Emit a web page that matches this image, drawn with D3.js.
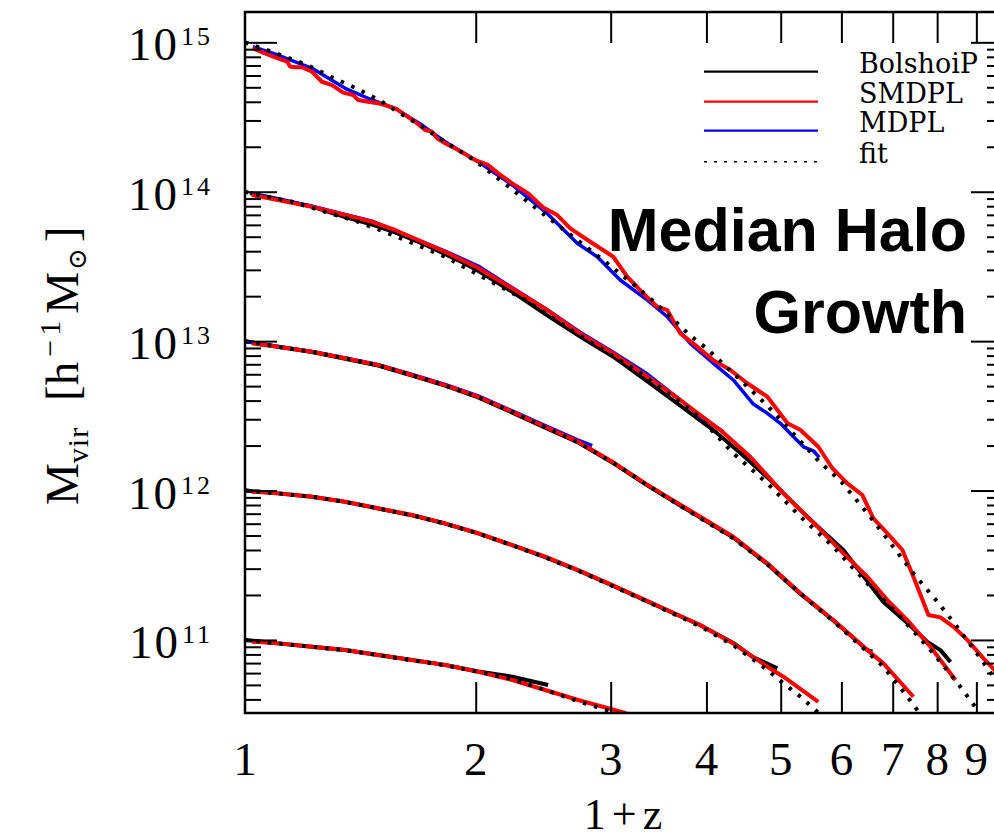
<!DOCTYPE html>
<html><head><meta charset="utf-8">
<script src="https://cdn.jsdelivr.net/npm/d3@7"></script>
<style>body{margin:0;background:#fff}svg{display:block}</style>
</head><body><svg id="c" width="994" height="840"></svg>
<script>
// x = 1+z, y = log10(Mvir / h^-1 Msun)
const xTicks = [2,3,4,5,6,7,8,9];
const xTickLabels = ["1","2","3","4","5","6","7","8","9"];
const yExponents = [11,12,13,14,15];
const legendNames = ["BolshoiP","SMDPL","MDPL","fit"];
const titleLines = ["Median Halo","Growth"];

const smdpl15 = [[1.024,14.960],[1.062,14.926],[1.104,14.893],[1.135,14.871],[1.145,14.838],[1.162,14.833],[1.187,14.833],[1.223,14.803],[1.260,14.736],[1.299,14.714],[1.343,14.663],[1.384,14.647],[1.405,14.614],[1.447,14.602],[1.492,14.592],[1.523,14.580],[1.579,14.552],[1.618,14.513],[1.667,14.469],[1.718,14.413],[1.754,14.402],[1.781,14.357],[1.824,14.324],[1.897,14.279],[1.997,14.212],[2.076,14.179],[2.140,14.123],[2.232,14.056],[2.342,13.989],[2.449,13.894],[2.555,13.844],[2.657,13.755],[2.821,13.665],[3.023,13.565],[3.153,13.431],[3.308,13.320],[3.450,13.230],[3.556,13.208],[3.697,13.052],[3.891,12.963],[4.083,12.873],[4.297,12.807],[4.522,12.718],[4.803,12.628],[5.103,12.450],[5.306,12.405],[5.598,12.293],[5.839,12.149],[6.108,12.048],[6.390,11.970],[6.605,11.814],[6.889,11.714],[7.207,11.602],[7.449,11.423],[7.793,11.167],[8.079,11.151],[8.403,11.088],[8.764,10.999],[9.193,10.877],[9.502,10.799],[9.733,10.732]];
const mdpl15 = [[1.024,14.971],[1.104,14.915],[1.223,14.826],[1.351,14.692],[1.465,14.614],[1.570,14.558],[1.702,14.446],[1.824,14.335],[2.015,14.201],[2.232,14.045],[2.479,13.855],[2.713,13.655],[2.881,13.565],[3.087,13.409],[3.350,13.275],[3.556,13.163],[3.810,12.985],[4.132,12.829],[4.336,12.740],[4.605,12.579],[4.803,12.517],[4.994,12.450],[5.195,12.360],[5.354,12.293],[5.515,12.266],[5.615,12.222]];
const fit15 = [[1.0,15.0],[1.1,14.925],[1.2,14.853],[1.3,14.765],[1.4,14.690],[1.5,14.610],[1.6,14.520],[1.7,14.438],[1.8,14.353],[2.0,14.205],[2.2,14.040],[2.4,13.888],[2.6,13.750],[2.8,13.623],[3.0,13.503],[3.2,13.388],[3.4,13.274],[3.6,13.157],[3.8,13.042],[4.0,12.953],[4.4,12.754],[4.8,12.570],[5.2,12.378],[5.6,12.200],[6.0,12.058],[6.5,11.843],[7.0,11.628],[7.5,11.426],[8.0,11.257],[8.5,11.086],[9.0,10.915],[9.5,10.745],[9.75,10.665]];

const bolshoi14 = [[1.015,13.991],[1.104,13.951],[1.223,13.900],[1.351,13.830],[1.465,13.780],[1.570,13.728],[1.718,13.645],[1.920,13.529],[2.027,13.462],[2.238,13.327],[2.479,13.172],[2.737,13.030],[3.023,12.896],[3.350,12.730],[3.698,12.568],[4.083,12.405],[4.429,12.251],[4.846,12.070],[5.306,11.869],[5.581,11.762],[6.035,11.602],[6.409,11.428],[6.807,11.254],[7.315,11.113],[7.770,10.986],[8.079,10.932],[8.327,10.852]];
const smdpl14 = [[1.021,13.978],[1.104,13.944],[1.223,13.900],[1.351,13.844],[1.465,13.799],[1.570,13.744],[1.682,13.677],[1.824,13.598],[2.015,13.489],[2.238,13.349],[2.479,13.208],[2.737,13.052],[3.023,12.918],[3.350,12.762],[3.698,12.606],[3.927,12.505],[4.171,12.405],[4.563,12.226],[5.040,11.981],[5.581,11.758],[6.035,11.580],[6.486,11.423],[6.889,11.267],[7.315,11.133],[7.840,10.954],[8.452,10.732]];
const mdpl14 = [[1.021,13.983],[1.223,13.904],[1.465,13.803],[1.824,13.603],[2.015,13.503],[2.238,13.354],[2.479,13.210],[2.737,13.060],[3.023,12.926],[3.350,12.780],[3.698,12.606],[3.986,12.472],[4.207,12.394]];
const fit14 = [[1.0,14.0],[1.040,13.978],[1.152,13.933],[1.272,13.866],[1.405,13.799],[1.537,13.722],[1.652,13.657],[1.824,13.565],[2.057,13.420],[2.321,13.275],[2.578,13.121],[2.907,12.954],[3.279,12.787],[3.698,12.592],[3.927,12.485],[4.336,12.249],[4.803,12.048],[5.306,11.825],[5.856,11.624],[6.486,11.379],[7.163,11.155],[7.911,10.910],[8.578,10.687],[9.029,10.531],[9.3,10.42]];

const bolshoi13 = [[1.0,13.0],[1.104,12.962],[1.223,12.927],[1.351,12.882],[1.492,12.837],[1.652,12.770],[1.824,12.702],[2.015,12.624],[2.232,12.522],[2.464,12.421],[2.721,12.322],[3.014,12.188],[3.328,12.043],[3.675,11.908],[3.927,11.820],[4.336,11.686],[4.803,11.508],[5.306,11.308],[5.856,11.130],[6.486,10.932],[6.585,10.921]];
const smdpl13 = [[1.021,12.985],[1.104,12.963],[1.223,12.929],[1.351,12.885],[1.492,12.840],[1.652,12.773],[1.824,12.706],[2.015,12.628],[2.232,12.527],[2.464,12.427],[2.721,12.327],[3.014,12.193],[3.328,12.048],[3.675,11.914],[3.927,11.825],[4.336,11.691],[4.803,11.513],[5.306,11.312],[5.856,11.133],[6.486,10.932],[6.807,10.843],[7.449,10.620]];
const mdpl13 = [[1.0,13.0],[1.104,12.965],[1.223,12.931],[1.351,12.888],[1.492,12.843],[1.652,12.777],[1.824,12.710],[2.015,12.633],[2.232,12.533],[2.464,12.434],[2.721,12.337],[2.838,12.300]];
const fit13 = [[1.0,13.0],[1.104,12.962],[1.223,12.928],[1.351,12.886],[1.492,12.838],[1.652,12.772],[1.824,12.703],[2.015,12.624],[2.232,12.525],[2.464,12.424],[2.721,12.322],[3.014,12.190],[3.328,12.046],[3.675,11.905],[3.927,11.815],[4.336,11.680],[4.803,11.505],[5.306,11.310],[5.856,11.125],[6.486,10.920],[6.807,10.821],[7.315,10.620],[7.586,10.511],[7.9,10.37]];

const bolshoi12 = [[1.0,12.0],[1.104,11.981],[1.223,11.958],[1.351,11.924],[1.492,11.880],[1.652,11.835],[1.824,11.779],[2.015,11.713],[2.232,11.634],[2.464,11.555],[2.721,11.466],[3.014,11.365],[3.328,11.265],[3.675,11.165],[3.927,11.098],[4.336,10.980],[4.600,10.885],[4.949,10.810]];
const smdpl12 = [[1.021,11.992],[1.104,11.981],[1.223,11.959],[1.351,11.925],[1.492,11.881],[1.652,11.836],[1.824,11.780],[2.015,11.714],[2.232,11.635],[2.464,11.557],[2.721,11.468],[3.014,11.367],[3.328,11.267],[3.675,11.167],[3.927,11.100],[4.336,10.977],[4.803,10.821],[5.040,10.754],[5.598,10.586]];
const fit12 = [[1.0,12.0],[1.104,11.981],[1.223,11.958],[1.351,11.924],[1.492,11.880],[1.652,11.834],[1.824,11.778],[2.015,11.712],[2.232,11.633],[2.464,11.553],[2.721,11.463],[3.014,11.362],[3.328,11.262],[3.675,11.160],[3.927,11.090],[4.336,10.965],[4.803,10.800],[5.040,10.710],[5.306,10.620],[5.581,10.519],[5.8,10.43]];

const bolshoi11 = [[1.0,11.0],[1.104,10.977],[1.223,10.955],[1.351,10.932],[1.492,10.899],[1.652,10.866],[1.824,10.833],[2.015,10.789],[2.232,10.754],[2.486,10.698]];
const smdpl11 = [[1.021,10.988],[1.104,10.977],[1.223,10.954],[1.351,10.932],[1.492,10.899],[1.652,10.865],[1.824,10.832],[2.015,10.787],[2.232,10.732],[2.464,10.665],[2.721,10.598],[3.134,10.511],[3.2,10.49]];
const fit11 = [[1.0,11.0],[1.104,10.977],[1.223,10.954],[1.351,10.931],[1.492,10.898],[1.652,10.864],[1.824,10.830],[2.015,10.786],[2.232,10.738],[2.464,10.665],[2.721,10.590],[3.014,10.519],[3.2,10.47]];

const series = [
  {sim:"BolshoiP", curves:[bolshoi14,bolshoi13,bolshoi12,bolshoi11]},
  {sim:"MDPL", curves:[mdpl15,mdpl14,mdpl13]},
  {sim:"SMDPL", curves:[smdpl15,smdpl14,smdpl13,smdpl12,smdpl11]},
  {sim:"fit", curves:[fit15,fit14,fit13,fit12,fit11]}
];
const style = {
  "BolshoiP":{color:"#000",w:4,dash:null},
  "SMDPL":{color:"#ff0000",w:4,dash:null},
  "MDPL":{color:"#0000ff",w:3.5,dash:null},
  "fit":{color:"#000",w:4,dash:"3.5,8"}
};

const L=245, R=1003, T=12, B=713;
const x = d3.scaleLog().domain([1,9.75]).range([L,R]);
const y = d3.scaleLog().domain([Math.pow(10,10.511),Math.pow(10,15.203)]).range([B,T]);

const svg = d3.select("#c");
const serif = "'Liberation Serif','Times New Roman',serif";

svg.append("defs").append("clipPath").attr("id","clip")
  .append("rect").attr("x",L).attr("y",T).attr("width",R-L).attr("height",B-T);

const line = d3.line().x(d=>x(d[0])).y(d=>y(Math.pow(10,d[1])));
const plot = svg.append("g").attr("clip-path","url(#clip)");
series.forEach(s=>{
  const st = style[s.sim];
  s.curves.forEach(c=>{
    plot.append("path").attr("d",line(c)).attr("fill","none")
      .attr("stroke",st.color).attr("stroke-width",st.w)
      .attr("stroke-linejoin","round")
      .attr("stroke-dasharray",st.dash);
  });
});

// ticks
const majorY = yExponents.map(e=>Math.pow(10,e));
const minorY = [];
for(let e=10;e<=15;e++) for(let k=2;k<=9;k++){const v=k*Math.pow(10,e); if(v>y.domain()[0]&&v<y.domain()[1]) minorY.push(v);}
function styleAxis(g){g.select(".domain").remove(); g.selectAll(".tick line").attr("stroke","#000").attr("stroke-width",2); g.selectAll("text").remove();}
svg.append("g").attr("transform",`translate(${L},0)`).call(d3.axisRight(y).tickValues(minorY).tickSize(16)).call(styleAxis);
svg.append("g").attr("transform",`translate(${L},0)`).call(d3.axisRight(y).tickValues(majorY).tickSize(32)).call(styleAxis);
svg.append("g").attr("transform",`translate(${R},0)`).call(d3.axisLeft(y).tickValues(minorY).tickSize(16)).call(styleAxis);
svg.append("g").attr("transform",`translate(${R},0)`).call(d3.axisLeft(y).tickValues(majorY).tickSize(32)).call(styleAxis);
svg.append("g").attr("transform",`translate(0,${B})`).call(d3.axisTop(x).tickValues(xTicks).tickSize(31)).call(styleAxis);
svg.append("g").attr("transform",`translate(0,${T})`).call(d3.axisBottom(x).tickValues(xTicks).tickSize(31)).call(styleAxis);

// frame
svg.append("rect").attr("x",L).attr("y",T).attr("width",R-L).attr("height",B-T)
  .attr("fill","none").attr("stroke","#000").attr("stroke-width",2.5);

// y tick labels
yExponents.forEach(e=>{
  const t = svg.append("text").attr("x",213).attr("y",y(Math.pow(10,e))+18)
    .attr("text-anchor","end").attr("font-family",serif).attr("font-size",47)
    .attr("letter-spacing",2).attr("fill","#000");
  t.append("tspan").text("10");
  t.append("tspan").attr("dy",-15).attr("dx",2).attr("font-size",26).attr("letter-spacing",3).text(String(e));
});
// x tick labels
xTickLabels.forEach(s=>{
  svg.append("text").attr("x",x(+s)).attr("y",775).attr("text-anchor","middle")
    .attr("font-family",serif).attr("font-size",47).attr("fill","#000").text(s);
});
// x title
svg.append("text").attr("x",626).attr("y",829).attr("text-anchor","middle")
  .attr("font-family",serif).attr("font-size",44).attr("letter-spacing",6).text("1+z");

// y title
const yt = svg.append("text").attr("transform","translate(78,505) rotate(-90)")
  .attr("font-family",serif).attr("font-size",47).attr("fill","#000");
yt.append("tspan").text("M");
yt.append("tspan").attr("dy",10).attr("font-size",30).attr("letter-spacing",1).text("vir");
yt.append("tspan").attr("dy",-10).attr("dx",26).text("[h");
yt.append("tspan").attr("dy",-18).attr("dx",5).attr("font-size",30).attr("letter-spacing",4).text("−1");
yt.append("tspan").attr("dy",18).attr("dx",3).text("M");
yt.append("tspan").attr("dy",8).attr("dx",2).attr("font-size",26).attr("font-family","'DejaVu Serif',serif").text("⊙");
yt.append("tspan").attr("dy",-8).attr("dx",6).text("]");

// legend
const legY = [71.7,101.7,130.7,161.7];
legendNames.forEach((n,i)=>{
  const st = style[n];
  svg.append("line").attr("x1",704).attr("x2",818).attr("y1",legY[i]).attr("y2",legY[i])
    .attr("stroke",st.color).attr("stroke-width",n==="fit"?1.5:2.2)
    .attr("stroke-dasharray",n==="fit"?"3,7":null);
  svg.append("text").attr("x",859).attr("y",legY[i]+1).attr("font-family","'DejaVu Serif',serif")
    .attr("font-size",27).attr("fill","#000").text(n);
});

// title
titleLines.forEach((s,i)=>{
  svg.append("text").attr("x",967).attr("y",[251,333][i]).attr("text-anchor","end")
    .attr("font-family","'Liberation Sans',Arial,sans-serif").attr("font-weight","bold")
    .attr("font-size",61).attr("fill","#000").text(s);
});
</script></body></html>
